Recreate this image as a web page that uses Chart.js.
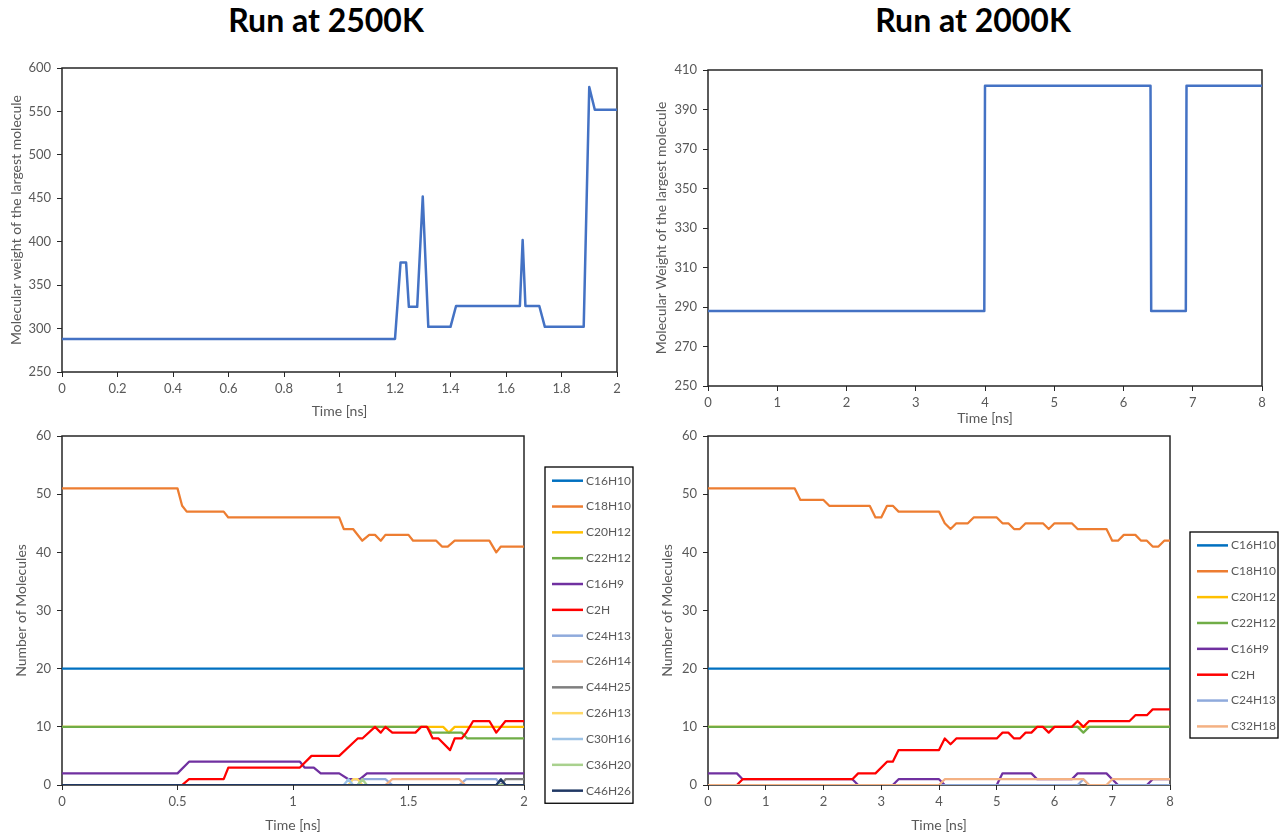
<!DOCTYPE html>
<html>
<head>
<meta charset="utf-8">
<title>Run at 2500K / 2000K</title>
<script src="https://cdn.jsdelivr.net/npm/chart.js@4.4.1/dist/chart.umd.min.js"></script>
<style>
  html, body { margin: 0; padding: 0; background: #fff; }
  body { width: 1280px; height: 835px; position: relative; overflow: hidden; }
  .panel { position: absolute; }
  .run-title {
    position: absolute; top: 0; height: 50px; line-height: 50px; margin: 0;
    text-align: center; font: bold 32px Lato, "Open Sans", sans-serif; color: #000;
  }
</style>
</head>
<body>
<h1 class="run-title" style="left:0;width:652px">Run at 2500K</h1>
<h1 class="run-title" style="left:650px;width:646px">Run at 2000K</h1>
<div class="panel" style="left:0;top:0;width:652px;height:430px"><canvas id="tl"></canvas></div>
<div class="panel" style="left:650px;top:0;width:646px;height:430px"><canvas id="tr"></canvas></div>
<div class="panel" style="left:0;top:420px;width:650px;height:415px"><canvas id="bl"></canvas></div>
<div class="panel" style="left:650px;top:420px;width:630px;height:415px"><canvas id="br"></canvas></div>
<script>
// ---- 2500K: molecular weight of the largest molecule ----
const tlTime = [0, 1.20, 1.22, 1.24, 1.25, 1.28, 1.30, 1.32, 1.40, 1.42, 1.65, 1.66, 1.67, 1.72, 1.74, 1.88, 1.90, 1.92, 2.0];
const tlWeight = [288, 288, 376, 376, 325, 325, 452, 302, 302, 326, 326, 402, 326, 326, 302, 302, 578, 552, 552];

// ---- 2000K: molecular weight of the largest molecule ----
const trTime = [0, 3.99, 4.0, 6.39, 6.40, 6.90, 6.91, 8];
const trWeight = [288, 288, 402, 402, 288, 288, 402, 402];

// ---- 2500K: number of molecules per species ----
const blNames = ['C16H10', 'C18H10', 'C20H12', 'C22H12', 'C16H9', 'C2H', 'C24H13',
  'C26H14', 'C44H25', 'C26H13', 'C30H16', 'C36H20', 'C46H26'];
const blTimes = [
  [0, 2],
  [0, 0.50, 0.52, 0.54, 0.70, 0.72, 1.20, 1.22, 1.26, 1.30, 1.33, 1.355, 1.38, 1.40, 1.50, 1.52, 1.62, 1.645, 1.67, 1.70, 1.85, 1.88, 1.90, 2.0],
  [0, 1.65, 1.675, 1.70, 2.0],
  [0, 1.58, 1.60, 1.73, 1.755, 2.0],
  [0, 0.50, 0.55, 1.03, 1.05, 1.09, 1.12, 1.20, 1.24, 1.29, 1.32, 2.0],
  [0, 0.52, 0.55, 0.70, 0.72, 1.03, 1.08, 1.20, 1.28, 1.30, 1.355, 1.38, 1.40, 1.43, 1.53, 1.555, 1.58, 1.605, 1.63, 1.68, 1.70, 1.73, 1.75, 1.78, 1.85, 1.88, 1.92, 2.0],
  [0, 1.28, 1.30, 1.40, 1.43, 1.72, 1.75, 1.88, 1.90, 2.0],
  [0, 1.40, 1.43, 1.72, 1.745, 2.0],
  [0, 1.90, 1.92, 2.0],
  [0, 1.24, 1.26, 1.28, 1.30, 2.0],
  [0, 1.22, 1.24, 1.26, 2.0],
  [0, 1.28, 1.30, 1.32, 2.0],
  [0, 1.88, 1.90, 1.92, 2.0]
];
const blCounts = [
  [20, 20],
  [51, 51, 48, 47, 47, 46, 46, 44, 44, 42, 43, 43, 42, 43, 43, 42, 42, 41, 41, 42, 42, 40, 41, 41],
  [10, 10, 9, 10, 10],
  [10, 10, 9, 9, 8, 8],
  [2, 2, 4, 4, 3, 3, 2, 2, 1, 1, 2, 2],
  [0, 0, 1, 1, 3, 3, 5, 5, 8, 8, 10, 9, 10, 9, 9, 10, 10, 8, 8, 6, 8, 8, 9, 11, 11, 9, 11, 11],
  [0, 0, 1, 1, 0, 0, 1, 1, 0, 0],
  [0, 0, 1, 1, 0, 0],
  [0, 0, 1, 1],
  [0, 0, 1, 1, 0, 0],
  [0, 0, 1, 0, 0],
  [0, 0, 1, 0, 0],
  [0, 0, 1, 0, 0]
];

// ---- 2000K: number of molecules per species ----
const brNames = ['C16H10', 'C18H10', 'C20H12', 'C22H12', 'C16H9', 'C2H', 'C24H13', 'C32H18'];
const brTimes = [
  [0, 8],
  [0, 1.5, 1.6, 2.0, 2.1, 2.8, 2.9, 3.0, 3.1, 3.2, 3.3, 4.0, 4.1, 4.2, 4.3, 4.5, 4.6, 5.0, 5.1, 5.2, 5.3, 5.4, 5.5, 5.8, 5.9, 6.0, 6.3, 6.4, 6.9, 7.0, 7.1, 7.2, 7.4, 7.5, 7.6, 7.7, 7.8, 7.9, 8.0],
  [0, 8],
  [0, 6.4, 6.5, 6.6, 8],
  [0, 0.5, 0.6, 2.5, 2.6, 3.2, 3.3, 4.0, 4.1, 5.0, 5.1, 5.6, 5.7, 6.3, 6.4, 6.9, 7.0, 7.1, 7.6, 7.7, 8],
  [0, 0.5, 0.6, 2.5, 2.6, 2.9, 3.1, 3.2, 3.3, 4.0, 4.1, 4.2, 4.3, 5.0, 5.1, 5.2, 5.3, 5.4, 5.5, 5.6, 5.7, 5.8, 5.9, 6.0, 6.3, 6.4, 6.5, 6.6, 7.3, 7.4, 7.6, 7.7, 8],
  [0, 6.4, 6.5, 6.6, 8],
  [0, 4.0, 4.1, 6.5, 6.6, 6.9, 7.0, 8]
];
const brCounts = [
  [20, 20],
  [51, 51, 49, 49, 48, 48, 46, 46, 48, 48, 47, 47, 45, 44, 45, 45, 46, 46, 45, 45, 44, 44, 45, 45, 44, 45, 45, 44, 44, 42, 42, 43, 43, 42, 42, 41, 41, 42, 42],
  [10, 10],
  [10, 10, 9, 10, 10],
  [2, 2, 1, 1, 0, 0, 1, 1, 0, 0, 2, 2, 1, 1, 2, 2, 1, 0, 0, 1, 1],
  [0, 0, 1, 1, 2, 2, 4, 4, 6, 6, 8, 7, 8, 8, 9, 9, 8, 8, 9, 9, 10, 10, 9, 10, 10, 11, 10, 11, 11, 12, 12, 13, 13],
  [0, 0, 1, 0, 0],
  [0, 0, 1, 1, 0, 0, 1, 1]
];

// series colours (Office palette)
const speciesColors = {
  C16H10: '#0070C0', C18H10: '#ED7D31', C20H12: '#FFC000', C22H12: '#70AD47',
  C16H9: '#7030A0', C2H: '#FF0000', C24H13: '#8FAADC', C26H14: '#F4B183',
  C44H25: '#7F7F7F', C26H13: '#FFD966', C30H16: '#9DC3E6', C36H20: '#A9D18E',
  C46H26: '#203864', C32H18: '#F4B183'
};

Chart.defaults.font.family = 'Lato, "Open Sans", sans-serif';
Chart.defaults.font.size = 13;
Chart.defaults.color = '#595959';
Chart.defaults.animation = false;

// plot area box, like the Excel chart border
const frame = {
  id: 'frame',
  beforeDatasetsDraw(chart) {
    const { ctx, chartArea: a } = chart;
    ctx.save();
    ctx.strokeStyle = '#262626';
    ctx.lineWidth = 1.5;
    ctx.strokeRect(a.left, a.top, a.right - a.left, a.bottom - a.top);
    ctx.restore();
  }
};

// boxed legend on the right of the lower charts
const boxLegend = {
  id: 'boxLegend',
  afterDraw(chart, args, o) {
    const ctx = chart.ctx;
    const sets = chart.data.datasets;
    const h = o.padTop + o.rowH * (sets.length - 1) + o.padBottom;
    ctx.save();
    ctx.strokeStyle = '#000';
    ctx.lineWidth = 1.3;
    ctx.strokeRect(o.left, o.top, o.width, h);
    ctx.font = '12px Lato, "Open Sans", sans-serif';
    ctx.textBaseline = 'middle';
    ctx.fillStyle = '#595959';
    sets.forEach((ds, i) => {
      const y = o.top + o.padTop + i * o.rowH;
      ctx.strokeStyle = ds.borderColor;
      ctx.lineWidth = 2.5;
      ctx.beginPath();
      ctx.moveTo(o.left + 7, y);
      ctx.lineTo(o.left + 38, y);
      ctx.stroke();
      ctx.fillText(ds.label, o.left + 41, y);
    });
    ctx.restore();
  }
};

function toPoints(times, values) {
  return times.map((t, i) => ({ x: t, y: values[i] }));
}

function fmt(v) {
  return String(Math.round(v * 10) / 10);
}

function makeChart(id, datasets, o) {
  const cfg = {
    type: 'line',
    data: { datasets: datasets },
    plugins: o.legend ? [frame, boxLegend] : [frame],
    options: {
      responsive: true,
      maintainAspectRatio: false,
      layout: { padding: o.padding },
      elements: { point: { radius: 0 }, line: { tension: 0, borderJoinStyle: 'round' } },
      plugins: {
        legend: { display: false },
        tooltip: { enabled: false },
        boxLegend: o.legend || {}
      },
      scales: {
        x: {
          type: 'linear',
          min: o.xMin, max: o.xMax,
          afterFit: (s) => { s.height = o.xHeight; },
          ticks: { stepSize: o.xStep, padding: 4, callback: fmt, maxRotation: 0, autoSkip: false },
          grid: { drawOnChartArea: false, drawTicks: true, tickLength: 5, color: '#262626' },
          border: { display: false },
          title: { display: true, text: 'Time [ns]', font: { size: 14 }, padding: { top: 0, bottom: o.xTitlePad } }
        },
        y: {
          min: o.yMin, max: o.yMax,
          afterFit: (s) => { s.width = o.yWidth; },
          ticks: { stepSize: o.yStep, padding: 6, callback: fmt },
          grid: { drawOnChartArea: false, drawTicks: true, tickLength: 5, color: '#262626' },
          border: { display: false },
          title: { display: true, text: o.yTitle, font: { size: 14 }, padding: { top: o.yTitlePad, bottom: 0 } }
        }
      }
    }
  };
  return new Chart(document.getElementById(id), cfg);
}

function weightSet(times, values) {
  return [{ data: toPoints(times, values), borderColor: '#4472C4', borderWidth: 2.5 }];
}

function speciesSets(names, times, counts) {
  return names.map((n, i) => ({
    label: n,
    data: toPoints(times[i], counts[i]),
    borderColor: speciesColors[n],
    borderWidth: 2.25,
    order: -i
  }));
}

makeChart('tl', weightSet(tlTime, tlWeight), {
  padding: { top: 68, left: 0, right: 35, bottom: 0 },
  xMin: 0, xMax: 2, xStep: 0.2, xHeight: 58, xTitlePad: 10,
  yMin: 250, yMax: 600, yStep: 50, yWidth: 62, yTitlePad: 8,
  yTitle: 'Molecular weight of the largest molecule'
});

makeChart('tr', weightSet(trTime, trWeight), {
  padding: { top: 70, left: 0, right: 34, bottom: 0 },
  xMin: 0, xMax: 8, xStep: 1, xHeight: 44, xTitlePad: 3,
  yMin: 250, yMax: 410, yStep: 20, yWidth: 58, yTitlePad: 3,
  yTitle: 'Molecular Weight of the largest molecule'
});

makeChart('bl', speciesSets(blNames, blTimes, blCounts), {
  padding: { top: 16, left: 0, right: 126, bottom: 0 },
  xMin: 0, xMax: 2, xStep: 0.5, xHeight: 50, xTitlePad: 1,
  yMin: 0, yMax: 60, yStep: 10, yWidth: 62, yTitlePad: 13,
  yTitle: 'Number of Molecules',
  legend: { left: 545, top: 47, width: 88, padTop: 13.7, rowH: 25.83, padBottom: 12.6 }
});

makeChart('br', speciesSets(brNames, brTimes, brCounts), {
  padding: { top: 16, left: 0, right: 110, bottom: 0 },
  xMin: 0, xMax: 8, xStep: 1, xHeight: 50, xTitlePad: 1,
  yMin: 0, yMax: 60, yStep: 10, yWidth: 58, yTitlePad: 9,
  yTitle: 'Number of Molecules',
  legend: { left: 540, top: 112, width: 88, padTop: 13.4, rowH: 25.86, padBottom: 11.6 }
});
</script>
</body>
</html>
